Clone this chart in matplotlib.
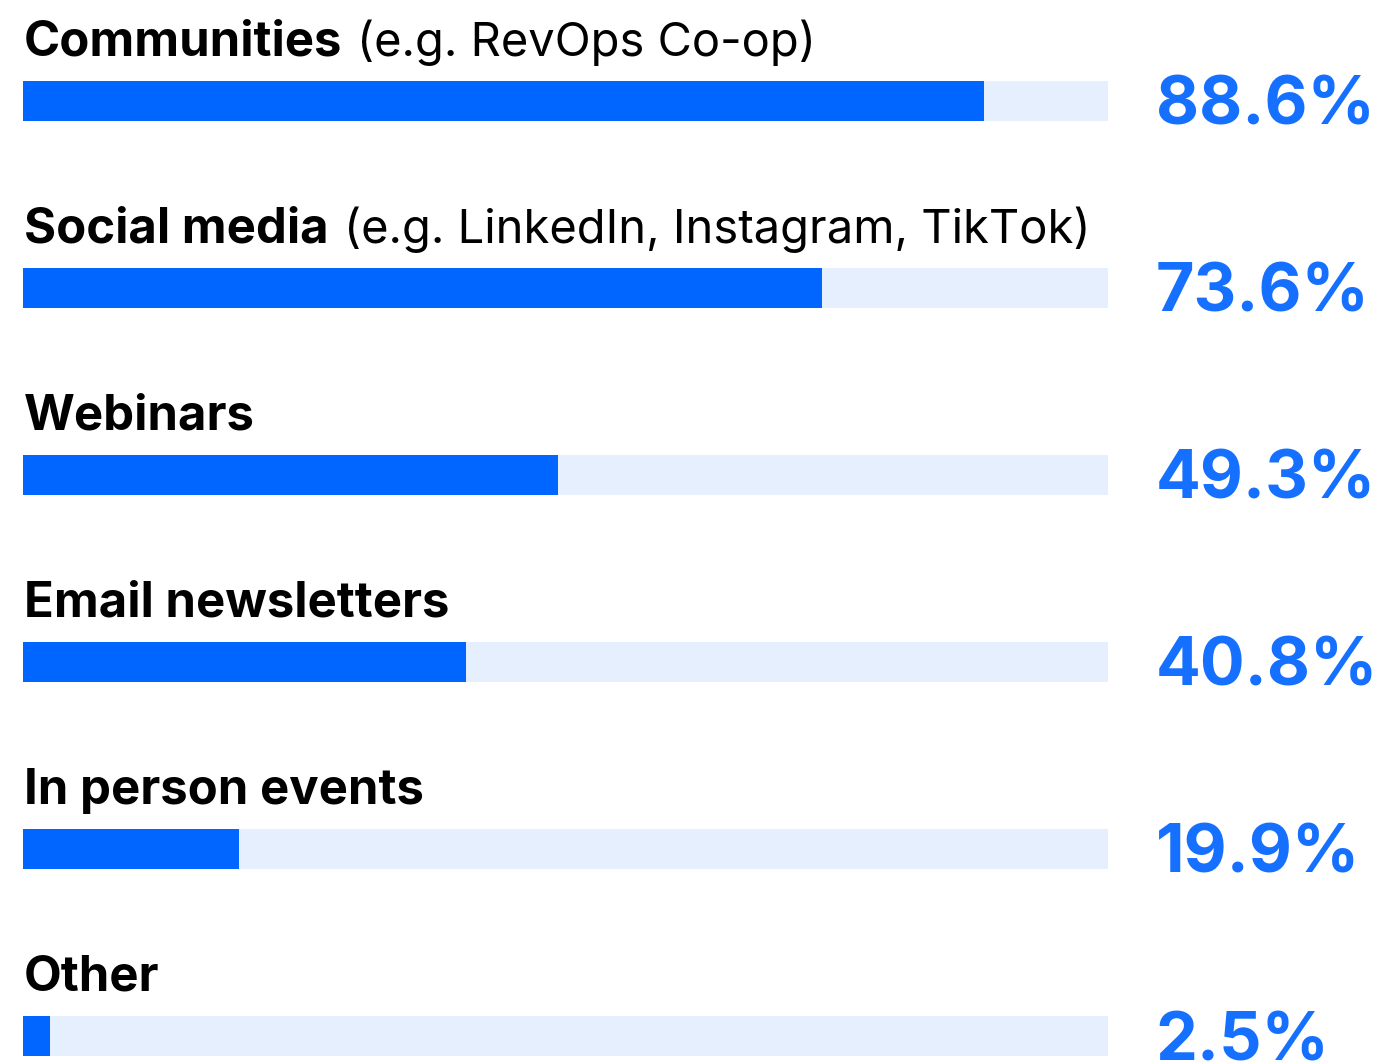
import matplotlib
matplotlib.use("Agg")
import matplotlib.pyplot as plt
import matplotlib.transforms as mtransforms

plt.rcParams["font.family"] = ["Inter", "DejaVu Sans"]

# Channel names, the optional example note after each name, and shares (%)
channels = ["Communities", "Social media", "Webinars", "Email newsletters",
            "In person events", "Other"]
examples = ["(e.g. RevOps Co-op)", "(e.g. LinkedIn, Instagram, TikTok)",
            "", "", "", ""]
shares = [88.6, 73.6, 49.3, 40.8, 19.9, 2.5]

BAR_BLUE = "#0066FF"
TRACK = "#E6EFFD"
PCT_BLUE = "#1670FF"

fig = plt.figure(figsize=(13.8, 10.63), dpi=100)
ax = fig.add_axes([23 / 1380, 0, 1085 / 1380, 1])
ax.set_xlim(0, 100)
ax.set_ylim(5.144, -0.540)
ax.axis("off")

rows = list(range(len(channels)))
bar_h = 40 / 187
name_y = -0.243

ax.barh(rows, [100] * len(rows), height=bar_h, color=TRACK, left=0)
ax.barh(rows, shares, height=bar_h, color=BAR_BLUE, left=0)

label_offset = mtransforms.ScaledTranslation(1 / 100, 0, fig.dpi_scale_trans)
pct_trans = mtransforms.blended_transform_factory(ax.transAxes, ax.transData)
name_texts = []
for i, name in enumerate(channels):
    t = ax.text(0, i + name_y, name, fontsize=35.3, fontweight="bold",
                color="black", va="baseline", ha="left",
                transform=ax.transData + label_offset)
    name_texts.append(t)
    ax.text(1.044, i + 0.128, f"{shares[i]}%", fontsize=47.8, fontweight="bold",
            color=PCT_BLUE, va="baseline", ha="left", transform=pct_trans)

# place the lighter example note right after the bold name
fig.canvas.draw()
renderer = fig.canvas.get_renderer()
note_gap = mtransforms.ScaledTranslation(15 / 100, 0, fig.dpi_scale_trans)
for t, note, i in zip(name_texts, examples, rows):
    if not note:
        continue
    bb = t.get_window_extent(renderer)
    x_data = ax.transData.inverted().transform((bb.x1, 0))[0]
    ax.text(x_data, i + name_y, note, fontsize=33.9, fontweight="normal",
            color="black", va="baseline", ha="left",
            transform=ax.transData + note_gap)

fig.savefig("out.png", dpi=100, facecolor="white")
